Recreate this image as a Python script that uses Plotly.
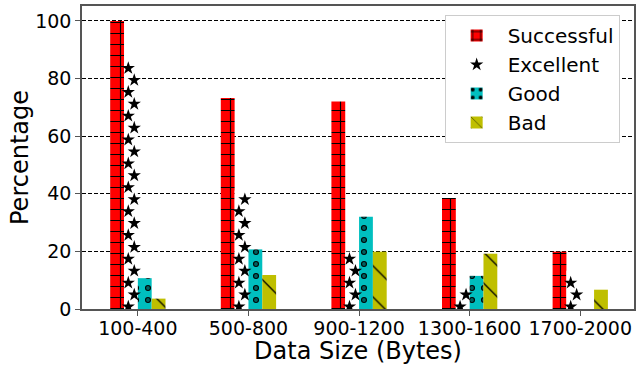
import plotly.graph_objects as go

# Quality breakdown per data-size bucket (percentages)
categories = ["100-400", "500-800", "900-1200", "1300-1600", "1700-2000"]
successful = [100.0, 73.3, 72.0, 38.5, 19.9]
excellent = [85.5, 41.1, 19.9, 7.8, 13.3]
good = [10.7, 20.7, 32.0, 11.5, 0.0]
bad = [3.6, 11.8, 19.9, 19.2, 6.7]
y_ticks = [0, 20, 40, 60, 80, 100]

FONT = "DejaVu Sans"
BAR_W = 0.125
idx = list(range(len(categories)))


def offset(j):
    return -0.25 + j * BAR_W


fig = go.Figure()

# Successful: red with a "+" hatch
fig.add_trace(go.Bar(
    x=idx, y=successful, width=BAR_W, offset=offset(0), name="Successful",
    legendgroup="s",
    marker=dict(color="#ff0000", line=dict(width=0),
                pattern=dict(shape="+", fgcolor="black", size=11, solidity=0.2,
                             fillmode="replace", bgcolor="#ff0000")),
))

# Excellent: white bars covered with staggered stars
fig.add_trace(go.Bar(
    x=idx, y=excellent, width=BAR_W, offset=offset(1), name="Excellent",
    legendgroup="e", showlegend=False,
    marker=dict(color="white", line=dict(width=0)),
))
star_x, star_y = [], []
step = 4.14
for i, v in zip(idx, excellent):
    centre = i + offset(1) + BAR_W / 2
    k = 0
    y = 0.8
    while y <= v - 1.2:
        star_x.append(centre + (-0.024 if k % 2 == 0 else 0.030))
        star_y.append(y)
        k += 1
        y = 0.8 + k * step
fig.add_trace(go.Scatter(
    x=star_x, y=star_y, mode="markers", name="Excellent", legendgroup="e",
    marker=dict(symbol="star", color="black", size=10, line=dict(width=0)),
))

# Good: cyan with ring markers (black dots with a cyan centre)
fig.add_trace(go.Bar(
    x=idx, y=good, width=BAR_W, offset=offset(2), name="Good", legendgroup="g",
    marker=dict(color="#00bfbf", line=dict(width=0),
                pattern=dict(shape=".", fgcolor="black", size=12, solidity=0.2,
                             fillmode="replace", bgcolor="#00bfbf")),
))
fig.add_trace(go.Bar(
    x=idx, y=good, width=BAR_W, offset=offset(2), name="Good", legendgroup="g",
    showlegend=False, hoverinfo="skip",
    marker=dict(color="rgba(0,0,0,0)", line=dict(width=0),
                pattern=dict(shape=".", fgcolor="#00bfbf", size=12, solidity=0.08,
                             fillmode="overlay")),
))

# Bad: olive with a "\" hatch
fig.add_trace(go.Bar(
    x=idx, y=bad, width=BAR_W, offset=offset(3), name="Bad", legendgroup="b",
    marker=dict(color="#bfbf00", line=dict(width=0),
                pattern=dict(shape="\\", fgcolor="black", size=22, solidity=0.06,
                             fillmode="replace", bgcolor="#bfbf00")),
))

axis_line = "#555555"
fig.update_layout(
    width=636, height=365,
    margin=dict(l=82, r=0, t=6, b=54),
    paper_bgcolor="white", plot_bgcolor="white",
    barmode="overlay",
    font=dict(family=FONT, size=19, color="black"),
    showlegend=True,
    legend=dict(
        x=0.657, y=0.970, xanchor="left", yanchor="top",
        bgcolor="white", bordercolor="#cccccc", borderwidth=1,
        font=dict(family=FONT, size=20), itemwidth=52, tracegroupgap=0,
    ),
    xaxis=dict(
        range=[-0.505, 4.486], tickmode="array", tickvals=idx, ticktext=categories,
        showgrid=False, zeroline=False,
        showline=True, linecolor=axis_line, linewidth=1.5, mirror=True,
        ticks="outside", ticklen=5, tickcolor=axis_line, tickwidth=1.2,
        tickfont=dict(family=FONT, size=19), ticklabelstandoff=-4,
        title=dict(text="Data Size (Bytes)", font=dict(family=FONT, size=24), standoff=10),
    ),
    yaxis=dict(
        range=[0, 105.2], tickmode="array", tickvals=y_ticks,
        showgrid=True, gridcolor="black", gridwidth=0.8, griddash="4px,2px",
        zeroline=False,
        showline=True, linecolor=axis_line, linewidth=1.5, mirror=True,
        ticks="outside", ticklen=5, tickcolor=axis_line, tickwidth=1.2,
        tickfont=dict(family=FONT, size=19),
        title=dict(text="Percentage", font=dict(family=FONT, size=24), standoff=0),
    ),
)

fig.write_html("out.html")
